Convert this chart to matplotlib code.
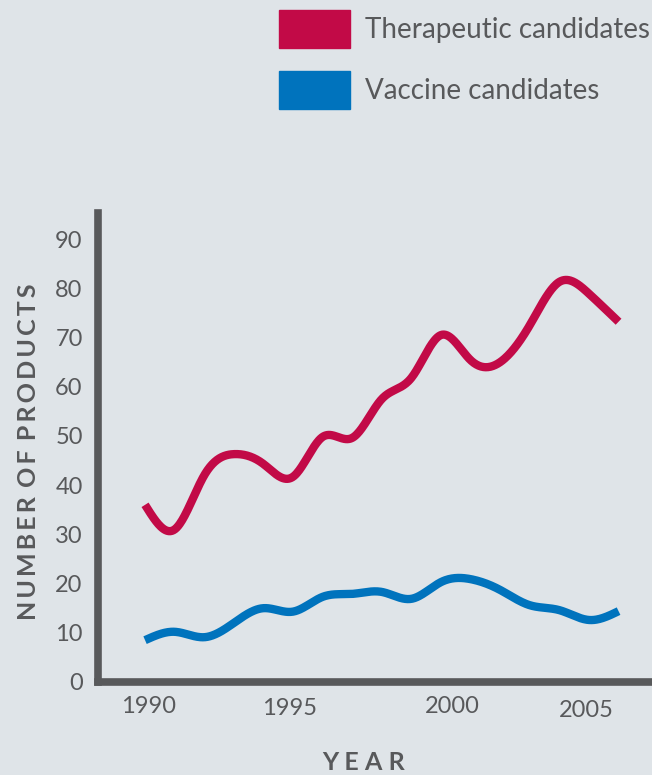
import numpy as np
import matplotlib
matplotlib.use("Agg")
import matplotlib.pyplot as plt
import matplotlib.transforms as mtransforms
from matplotlib.patches import Patch

plt.rcParams['font.family'] = ['Lato', 'DejaVu Sans']

# values (one per year)
years = [1990, 1991, 1992, 1993, 1994, 1995, 1996, 1997, 1998,
         1999, 2000, 2001, 2002, 2003, 2004, 2005, 2006]
therapeutic = [36, 31, 42, 46.3, 44.3, 41.7, 49.8, 49.6, 57.5,
               61.8, 70.5, 65.4, 65, 72.5, 81.3, 78.9, 73.2]
vaccine = [8.5, 10.2, 9.1, 12, 15, 14.3, 17.3, 17.9, 18.3,
           16.9, 20.3, 20.9, 18.7, 15.6, 14.6, 12.6, 14.4]
series_names = ['Therapeutic candidates', 'Vaccine candidates']
year_ticks = [1990, 1995, 2000, 2005]
count_ticks = list(range(0, 100, 10))

RED = '#c20a47'
BLUE = '#0073bd'
GREY = '#58595b'
BG = '#dfe4e8'


def spline(x, y, n=600):
    # natural cubic spline, only used to draw a smooth curve through the points
    x = np.asarray(x, float)
    y = np.asarray(y, float)
    k = len(x)
    h = np.diff(x)
    A = np.zeros((k, k))
    r = np.zeros(k)
    A[0, 0] = A[-1, -1] = 1
    for i in range(1, k - 1):
        A[i, i - 1] = h[i - 1]
        A[i, i] = 2 * (h[i - 1] + h[i])
        A[i, i + 1] = h[i]
        r[i] = 6 * ((y[i + 1] - y[i]) / h[i] - (y[i] - y[i - 1]) / h[i - 1])
    m = np.linalg.solve(A, r)
    xs = np.linspace(x[0], x[-1], n)
    idx = np.clip(np.searchsorted(x, xs) - 1, 0, k - 2)
    t = xs - x[idx]
    hi = h[idx]
    a = (y[idx + 1] - y[idx]) / hi - hi * (2 * m[idx] + m[idx + 1]) / 6
    ys = y[idx] + a * t + m[idx] / 2 * t ** 2 + (m[idx + 1] - m[idx]) / (6 * hi) * t ** 3
    return xs, ys


def spaced(s, gap='\u2009'):
    # crude letter spacing with thin spaces
    return (gap + ' ').join(gap.join(w) for w in s.split())


fig = plt.figure(figsize=(6.52, 7.75), dpi=100, facecolor=BG)
ax = fig.add_axes([0.1503, 0.12, 0.8497, 0.6052])
ax.set_facecolor(BG)

for vals, col in [(therapeutic, RED), (vaccine, BLUE)]:
    xs, ys = spline(years, vals)
    ax.plot(xs, ys, color=col, lw=6, solid_capstyle='butt', solid_joinstyle='round')

ax.set_xlim(1988.41, 2007.13)
ax.set_ylim(0, 95.3)

for s in ['top', 'right']:
    ax.spines[s].set_visible(False)
for s in ['left', 'bottom']:
    ax.spines[s].set_color(GREY)
    ax.spines[s].set_linewidth(5.5)
    ax.spines[s].set_capstyle('projecting')

ax.set_xticks(year_ticks)
ax.set_yticks(count_ticks)
ax.tick_params(length=0, labelsize=17, labelcolor=GREY)
ax.tick_params(axis='y', pad=11)
ax.tick_params(axis='x', pad=11)
# the year labels sit a little off their ticks in the original
for lab, dx, dy in zip(ax.get_xticklabels(), [3, -4, 11, -3], [1, -1, 1, -3]):
    lab.set_transform(lab.get_transform() +
                      mtransforms.ScaledTranslation(dx / 100, dy / 100, fig.dpi_scale_trans))

ax.set_ylabel(spaced('NUMBER OF PRODUCTS'), fontsize=18, fontweight='bold', color=GREY)
ax.yaxis.set_label_coords(-0.105, 0.49)
fig.text(364 / 652, 1 - 762 / 775, spaced('YEAR', '\u2009\u2009'), fontsize=18,
         fontweight='bold', color=GREY, ha='center', va='center')

handles = [Patch(color=RED), Patch(color=BLUE)]
fig.legend(handles, series_names, loc='upper left',
           bbox_to_anchor=(279 / 652, 1 - 10 / 775), frameon=False,
           borderpad=0, borderaxespad=0, handlelength=2.55,
           handleheight=1.72, handletextpad=0.55, labelspacing=0.83,
           labelcolor=GREY, prop={'size': 20})

fig.savefig('out.png', dpi=100, facecolor=BG)
